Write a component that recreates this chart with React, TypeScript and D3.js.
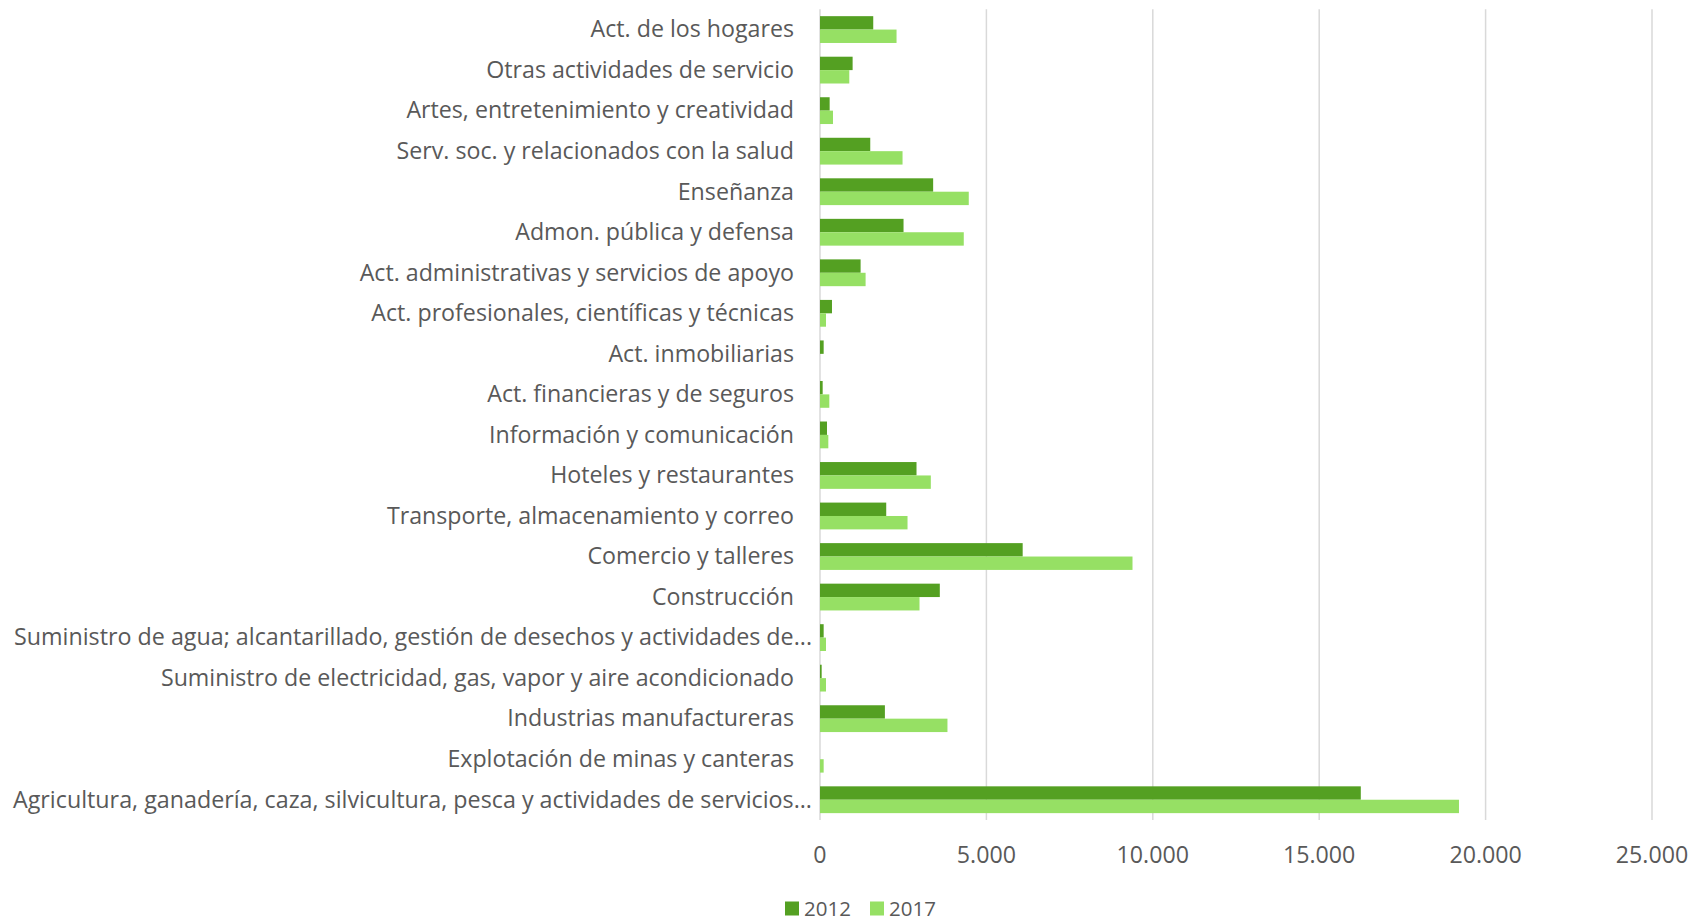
import React from "react";
import * as d3 from "d3";

const categories = [
  "Act. de los hogares",
  "Otras actividades de servicio",
  "Artes, entretenimiento y creatividad",
  "Serv. soc. y relacionados con la salud",
  "Enseñanza",
  "Admon. pública y defensa",
  "Act. administrativas y servicios de apoyo",
  "Act. profesionales, científicas y técnicas",
  "Act. inmobiliarias",
  "Act. financieras y de seguros",
  "Información y comunicación",
  "Hoteles y restaurantes",
  "Transporte, almacenamiento y correo",
  "Comercio y talleres",
  "Construcción",
  "Suministro de agua; alcantarillado, gestión de desechos y actividades de...",
  "Suministro de electricidad, gas, vapor y aire acondicionado",
  "Industrias manufactureras",
  "Explotación de minas y canteras",
  "Agricultura, ganadería, caza, silvicultura, pesca y actividades de servicios...",
];

const values2012 = [1600, 980, 290, 1510, 3400, 2510, 1220, 360, 110, 80, 210, 2900, 1990, 6090, 3600, 110, 50, 1950, 0, 16250];
const values2017 = [2300, 880, 390, 2480, 4470, 4320, 1370, 180, 0, 280, 250, 3330, 2630, 9390, 2990, 180, 180, 3830, 110, 19200];

const seriesNames = ["2012", "2017"];
const seriesColors = ["#54A022", "#96E064"];
const xTicks = [0, 5000, 10000, 15000, 20000, 25000];
const tickLabels = ["0", "5.000", "10.000", "15.000", "20.000", "25.000"];

export default function App() {
  const W = 1696;
  const H = 920;
  const x0 = 820;
  const x1 = 1652;
  const yTop = 9.3;
  const yBot = 820;

  const x = d3.scaleLinear().domain([0, 25000]).range([x0, x1]);
  const y = d3.scaleBand<string>().domain(categories).range([yTop, yBot]).paddingInner(0).paddingOuter(0);
  const barH = 13.4;
  const font = "'Open Sans', sans-serif";
  const textColor = "#595959";

  const series = [values2012, values2017];

  return (
    <svg width={W} height={H} style={{ position: "absolute", left: 0, top: 0, background: "#fff" }}>
      {xTicks.map((t) => (
        <line key={"g" + t} x1={x(t)} x2={x(t)} y1={yTop} y2={yBot} stroke="#d9d9d9" strokeWidth={1.5} />
      ))}
      {categories.map((c, i) => {
        const cy = (y(c) as number) + y.bandwidth() / 2;
        const ell = c.endsWith("...");
        return (
          <g key={c}>
            {series.map((vals, s) => (
              <rect
                key={s}
                x={x(0)}
                y={cy - barH + s * barH}
                width={Math.max(0, x(vals[i]) - x(0))}
                height={barH}
                fill={seriesColors[s]}
              />
            ))}
            <text
              x={ell ? 812 : 794}
              y={cy + 7.8}
              textAnchor="end"
              fontFamily={font}
              fontSize={23.2}
              fill={textColor}
              textLength={ell ? (i === categories.length - 1 ? 799 : 798) : undefined}
              lengthAdjust={ell ? "spacingAndGlyphs" : undefined}
            >
              {c}
            </text>
          </g>
        );
      })}
      {xTicks.map((t, i) => (
        <text key={"t" + t} x={x(t)} y={863} textAnchor="middle" fontFamily={font} fontSize={23.2} fill={textColor}>
          {tickLabels[i]}
        </text>
      ))}
      {seriesNames.map((n, i) => {
        const lx = 785 + i * 85;
        return (
          <g key={n}>
            <rect x={lx} y={901.5} width={14} height={14} fill={seriesColors[i]} />
            <text x={lx + 19} y={915.5} fontFamily={font} fontSize={20.5} fill={textColor}>
              {n}
            </text>
          </g>
        );
      })}
    </svg>
  );
}
